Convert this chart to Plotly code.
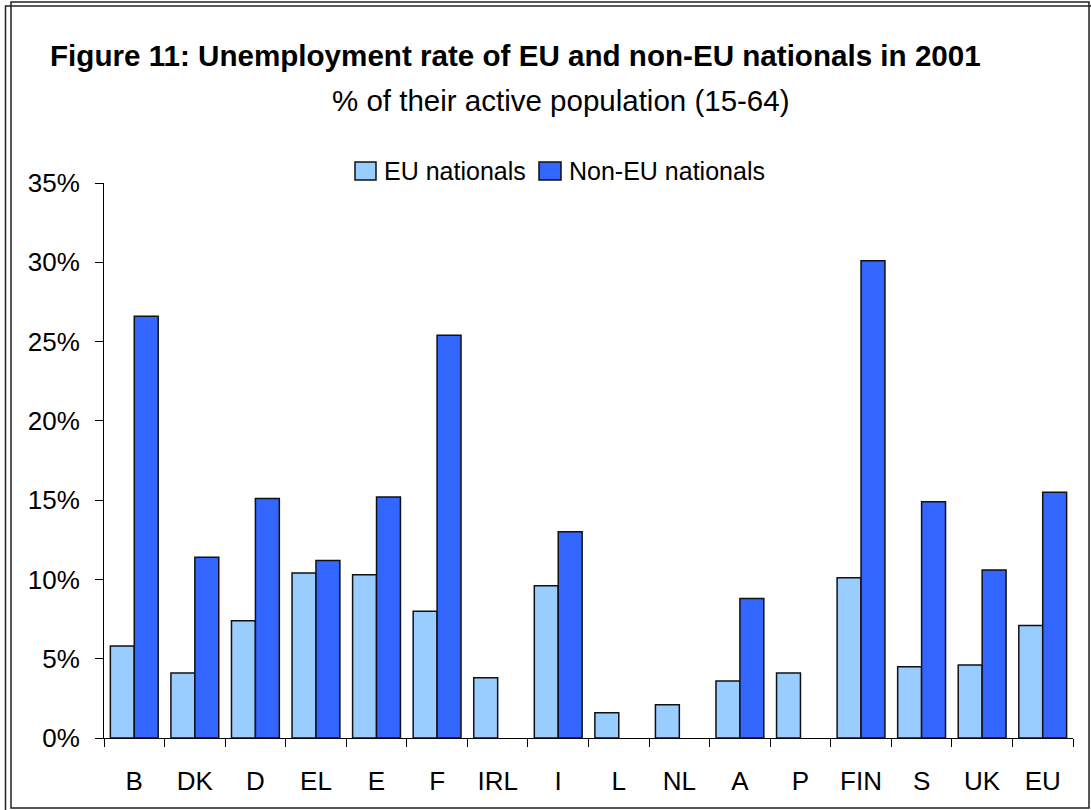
import plotly.graph_objects as go

countries = ["B", "DK", "D", "EL", "E", "F", "IRL", "I", "L", "NL", "A", "P", "FIN", "S", "UK", "EU"]
eu_nationals = [5.8, 4.1, 7.4, 10.4, 10.3, 8.0, 3.8, 9.6, 1.6, 2.1, 3.6, 4.1, 10.1, 4.5, 4.6, 7.1]
non_eu_nationals = [26.6, 11.4, 15.1, 11.2, 15.2, 25.4, None, 13.0, None, None, 8.8, None, 30.1, 14.9, 10.6, 15.5]
y_ticks = [0, 5, 10, 15, 20, 25, 30, 35]
y_tick_labels = ["0%", "5%", "10%", "15%", "20%", "25%", "30%", "35%"]

W, H = 1091, 810
L, R, T, B = 104, 18, 183, 72
PW, PH = W - L - R, H - T - B

def px(x):
    return (x - L) / PW

def py(y):
    return (H - B - y) / PH

FONT = "Liberation Sans, Arial, sans-serif"
C_EU = "#99CCFF"
C_NON = "#3366FF"

fig = go.Figure()
fig.add_trace(go.Bar(x=countries, y=eu_nationals, name="EU nationals",
                     marker=dict(color=C_EU, line=dict(color="#111111", width=1.5))))
fig.add_trace(go.Bar(x=countries, y=non_eu_nationals, name="Non-EU nationals",
                     marker=dict(color=C_NON, line=dict(color="#111111", width=1.5))))

fig.update_layout(
    width=W, height=H,
    margin=dict(l=L, r=R, t=T, b=B, autoexpand=False),
    paper_bgcolor="white", plot_bgcolor="white",
    barmode="group", bargap=0.21, bargroupgap=0,
    showlegend=False,
    font=dict(family=FONT, color="black", size=26),
)
fig.update_xaxes(
    type="category", showline=True, linecolor="black", linewidth=1,
    ticks="outside", tickson="boundaries", ticklen=8, tickcolor="black",
    showgrid=False, tickfont=dict(size=26, family=FONT), ticklabelstandoff=20,
)
fig.update_yaxes(
    range=[0, 35], tickvals=y_ticks, ticktext=y_tick_labels,
    showline=True, linecolor="black", linewidth=1,
    ticks="outside", ticklen=8, tickcolor="black",
    showgrid=False, zeroline=False, tickfont=dict(size=26, family=FONT),
    ticklabelstandoff=10,
)

# Title and subtitle
fig.add_annotation(text="<b>Figure 11: Unemployment rate of EU and non-EU nationals in 2001</b>",
                   xref="paper", yref="paper", x=px(515), y=py(56), xanchor="center", yanchor="middle",
                   showarrow=False, font=dict(size=29.6, family=FONT))
fig.add_annotation(text="% of their active population (15-64)",
                   xref="paper", yref="paper", x=px(561), y=py(101), xanchor="center", yanchor="middle",
                   showarrow=False, font=dict(size=29.5, family=FONT))

# Legend (drawn manually)
legend_items = [("EU nationals", C_EU, 355, 376), ("Non-EU nationals", C_NON, 539, 561)]
for name, col, x0, x1 in legend_items:
    fig.add_shape(type="rect", xref="paper", yref="paper",
                  x0=px(x0), x1=px(x1), y0=py(180), y1=py(162),
                  fillcolor=col, line=dict(color="#111111", width=1.5))
    fig.add_annotation(text=name, xref="paper", yref="paper", x=px(x1 + 6), y=py(171),
                       xanchor="left", yanchor="middle", showarrow=False,
                       font=dict(size=25, family=FONT))

# Double frame
fig.add_shape(type="rect", xref="paper", yref="paper",
              x0=px(11), x1=px(1089), y0=py(808), y1=py(2),
              line=dict(color="#222222", width=1.5))
fig.add_shape(type="rect", xref="paper", yref="paper",
              x0=px(5.5), x1=px(1100), y0=py(820), y1=py(6),
              line=dict(color="#222222", width=1.5))

fig.write_html("out.html", config={"displayModeBar": False},
               post_script="document.body.style.margin='0';document.body.style.overflow='hidden';")
